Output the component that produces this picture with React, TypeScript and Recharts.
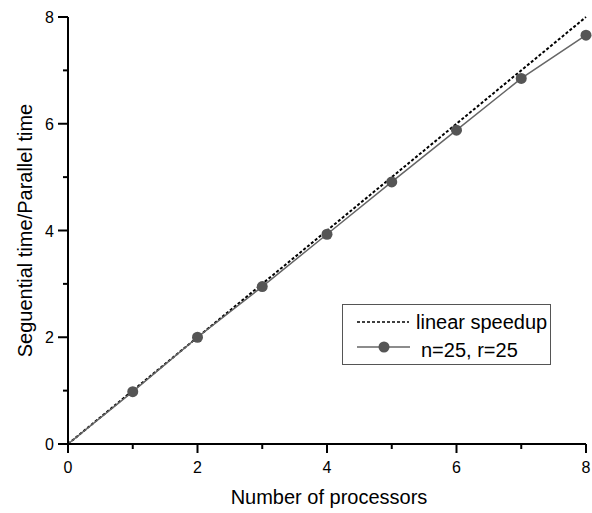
import { LineChart, Line, XAxis, YAxis, Legend } from 'recharts';

const processors = [0, 1, 2, 3, 4, 5, 6, 7, 8];
const linearSpeedup = [0, 1, 2, 3, 4, 5, 6, 7, 8];
const measuredSpeedup = [0, 0.98, 2.0, 2.95, 3.93, 4.91, 5.88, 6.85, 7.66];
const axisTicks = [0, 1, 2, 3, 4, 5, 6, 7, 8];
const labeledTicks = [0, 2, 4, 6, 8];
const seriesNames = ['linear speedup', 'n=25, r=25'];

const FONT = '"Liberation Sans", Arial, sans-serif';

const data = processors.map((p, i) => ({
  p,
  linear: linearSpeedup[i],
  measured: measuredSpeedup[i],
}));

function XTick({ x, y, payload }: any) {
  const major = labeledTicks.includes(payload.value);
  return (
    <g>
      <line x1={x} y1={y} x2={x} y2={y + (major ? 9 : 5)} stroke="#000" strokeWidth={2} />
      {major && (
        <text x={x} y={y + 29} textAnchor="middle" fontSize={16} fontFamily={FONT} fill="#000">
          {payload.value}
        </text>
      )}
    </g>
  );
}

function YTick({ x, y, payload }: any) {
  const major = labeledTicks.includes(payload.value);
  return (
    <g>
      <line x1={x - (major ? 10 : 5)} y1={y} x2={x} y2={y} stroke="#000" strokeWidth={2} />
      {major && (
        <text x={x - 14} y={y + 6} textAnchor="end" fontSize={16} fontFamily={FONT} fill="#000">
          {payload.value}
        </text>
      )}
    </g>
  );
}

function MeasuredDot({ cx, cy, index }: any) {
  if (index === 0) return <g key={index} />;
  return <circle key={index} cx={cx} cy={cy} r={5.5} fill="#555" />;
}

function LegendBox() {
  return (
    <div
      style={{
        position: 'relative',
        boxSizing: 'border-box',
        width: 209,
        height: 61,
        border: '1px solid #555',
        background: '#fff',
        fontFamily: FONT,
        fontSize: 20,
        color: '#000',
      }}
    >
      <svg width={209} height={61} style={{ position: 'absolute', left: -1, top: -1 }}>
        <line x1={15} y1={18} x2={67} y2={18} stroke="#000" strokeWidth={1.5} strokeDasharray="3 2" />
        <line x1={15} y1={43} x2={68} y2={43} stroke="#666" strokeWidth={1.5} />
        <circle cx={42} cy={43} r={5.5} fill="#555" />
      </svg>
      <div style={{ position: 'absolute', left: 73, top: 5, lineHeight: '24px', whiteSpace: 'nowrap' }}>{seriesNames[0]}</div>
      <div style={{ position: 'absolute', left: 78, top: 33, lineHeight: '24px', whiteSpace: 'nowrap' }}>{seriesNames[1]}</div>
    </div>
  );
}

export default function App() {
  return (
    <div style={{ position: 'absolute', left: 0, top: 0, background: '#fff' }}>
      <LineChart width={592} height={513} data={data} margin={{ top: 17, right: 6, left: 0, bottom: 0 }}>
        <XAxis
          dataKey="p"
          type="number"
          domain={[0, 8]}
          ticks={axisTicks}
          interval={0}
          height={69}
          tickSize={0}
          tickMargin={0}
          tickLine={false}
          axisLine={{ stroke: '#000', strokeWidth: 2 }}
          tick={<XTick />}
          label={{
            content: ({ viewBox }: any) => (
              <text
                x={viewBox.x + viewBox.width / 2 + 2}
                y={viewBox.y + 60}
                textAnchor="middle"
                fontSize={20}
                fontFamily={FONT}
                fill="#000"
              >
                Number of processors
              </text>
            ),
          }}
        />
        <YAxis
          type="number"
          domain={[0, 8]}
          ticks={axisTicks}
          interval={0}
          width={68}
          tickSize={0}
          tickMargin={0}
          tickLine={false}
          axisLine={{ stroke: '#000', strokeWidth: 2 }}
          tick={<YTick />}
          label={{
            content: ({ viewBox }: any) => {
              const cx = 25;
              const cy = viewBox.y + viewBox.height / 2;
              return (
                <text
                  x={cx}
                  y={cy}
                  transform={`rotate(-90 ${cx} ${cy})`}
                  textAnchor="middle"
                  dominantBaseline="central"
                  fontSize={20}
                  fontFamily={FONT}
                  fill="#000"
                >
                  Seguential time/Parallel time
                </text>
              );
            },
          }}
        />
        <Legend
          layout="vertical"
          align="center"
          verticalAlign="middle"
          wrapperStyle={{ left: 342, top: 304, width: 209, height: 61 }}
          content={() => <LegendBox />}
        />
        <Line
          dataKey="linear"
          name={seriesNames[0]}
          stroke="#000"
          strokeWidth={2}
          strokeDasharray="3 2"
          dot={false}
          activeDot={false}
          isAnimationActive={false}
        />
        <Line
          dataKey="measured"
          name={seriesNames[1]}
          stroke="#666"
          strokeWidth={1.5}
          dot={<MeasuredDot />}
          activeDot={false}
          isAnimationActive={false}
        />
      </LineChart>
    </div>
  );
}
